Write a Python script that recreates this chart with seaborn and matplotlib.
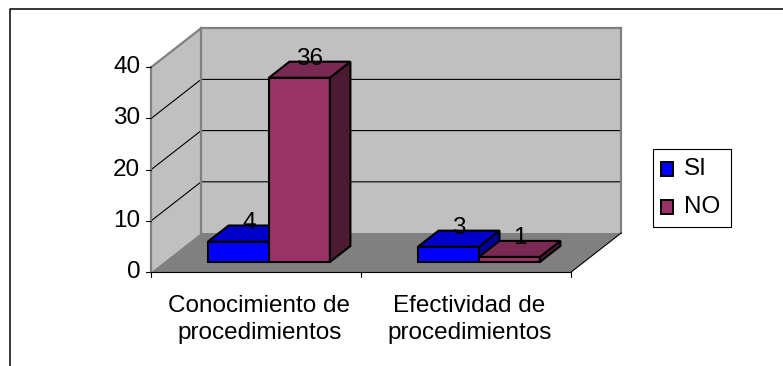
import matplotlib
matplotlib.use("Agg")
import matplotlib.pyplot as plt
from matplotlib.patches import Polygon, Rectangle
import pandas as pd
import seaborn as sns

# ---- datos ----
categorias = ["Conocimiento de procedimientos", "Efectividad de procedimientos"]
etiquetas_eje = [["Conocimiento de", "procedimientos"],
                 ["Efectividad de", "procedimientos"]]
series = ["SI", "NO"]
valores_si = [4, 3]
valores_no = [36, 1]
ticks_y = [0, 10, 20, 30, 40]

colores = {"SI": "#0000FF", "NO": "#993366"}
tono_sup = {"SI": "#0000CC", "NO": "#7A2952"}
tono_lat = {"SI": "#00009A", "NO": "#4D1A33"}

df = pd.DataFrame({
    "categoria": categorias * 2,
    "respuesta": [series[0]] * 2 + [series[1]] * 2,
    "valor": valores_si + valores_no,
})

sns.set_theme(style="white")
plt.rcParams["font.family"] = ["Liberation Sans", "DejaVu Sans"]
FS = 17.5

W, H = 783, 366
fig = plt.figure(figsize=(W / 100, H / 100), dpi=100)
ax = fig.add_axes([0, 0, 1, 1])

# escala del plano frontal de las barras (pixeles)
X0, SX = 269.0, 210.0      # centro de la primera categoria, px por categoria
Y0, SY = 262.0, 5.12       # valor 0, px por unidad
DXR = 50.0 / 39.0          # avance horizontal por px de profundidad
K_FRENTE, K_BARRA, K_FONDO = -10.0, 16.0, 29.0


def P(x, y, k=0.0):
    """Punto (categoria, valor) desplazado k px de profundidad."""
    return (x + k * DXR / SX, y + k / SY)


def px(xp, yp):
    return ((xp - X0) / SX, (Y0 - yp) / SY)


ymax = ticks_y[-1]
xl, xr = -0.5, len(categorias) - 0.5

# ---- paredes y suelo ----
gris_pared, gris_suelo, gris_borde = "#C0C0C0", "#808080", "#808080"
ax.add_patch(Polygon([P(xl, 0, K_FRENTE), P(xl, ymax, K_FRENTE),
                      P(xl, ymax, K_FONDO), P(xl, 0, K_FONDO)],
                     closed=True, facecolor=gris_pared, edgecolor="none", zorder=0))
ax.add_patch(Polygon([P(xl, 0, K_FONDO), P(xr, 0, K_FONDO),
                      P(xr, ymax, K_FONDO), P(xl, ymax, K_FONDO)],
                     closed=True, facecolor=gris_pared, edgecolor="none", zorder=0))
ax.add_patch(Polygon([P(xl, 0, K_FRENTE), P(xr, 0, K_FRENTE),
                      P(xr, 0, K_FONDO), P(xl, 0, K_FONDO)],
                     closed=True, facecolor=gris_suelo, edgecolor="none", zorder=0.5))

# lineas de division
for v in ticks_y[1:-1]:
    a, b, c = P(xl, v, K_FRENTE), P(xl, v, K_FONDO), P(xr, v, K_FONDO)
    ax.plot([a[0], b[0], c[0]], [a[1], b[1], c[1]], color="black", lw=0.8, zorder=1)


def linea(p, q, **kw):
    ax.plot([p[0], q[0]], [p[1], q[1]], solid_capstyle="projecting", **kw)


# aristas de las paredes
for p, q in [((xl, 0, K_FRENTE), (xl, ymax, K_FRENTE)),
             ((xl, ymax, K_FRENTE), (xl, ymax, K_FONDO)),
             ((xl, ymax, K_FONDO), (xr, ymax, K_FONDO)),
             ((xl, 0, K_FONDO), (xl, ymax, K_FONDO)),
             ((xr, 0, K_FONDO), (xr, ymax, K_FONDO))]:
    linea(P(*p), P(*q), color=gris_borde, lw=1.6, zorder=1.5)

# eje de categorias y su borde derecho
linea(P(xl, 0, K_FRENTE), P(xr, 0, K_FRENTE), color="black", lw=0.8, zorder=1.6)
linea(P(xr, 0, K_FRENTE), P(xr, 0, K_FONDO), color="black", lw=0.8, zorder=1.6)

# marcas y etiquetas del eje de valores
tick_len = 5 / SX
for v in ticks_y:
    x0, y0 = P(xl, v, K_FRENTE)
    ax.plot([x0 - tick_len, x0], [y0, y0], color="black", lw=0.8, zorder=1.6)
    ax.annotate(f"{v}", xy=(x0, y0), xytext=(-11, 0), textcoords="offset pixels",
                ha="right", va="center", fontsize=FS, color="black")

# marcas y etiquetas de categorias
for i in range(len(categorias) + 1):
    x0, y0 = P(i - 0.5, 0, K_FRENTE)
    ax.plot([x0, x0], [y0, y0 - 5 / SY], color="black", lw=0.8, zorder=1.6)
for i, lineas in enumerate(etiquetas_eje):
    x0, y0 = P(i, 0, K_FRENTE)
    for j, txt in enumerate(lineas):
        ax.annotate(txt, xy=(x0, y0), xytext=(3, -40 - 27 * j),
                    textcoords="offset pixels", ha="center", va="baseline",
                    fontsize=FS, color="black")

# ---- barras ----
sns.barplot(data=df, x="categoria", y="valor", hue="respuesta", order=categorias,
            hue_order=series, palette=colores, width=0.58, gap=0, saturation=1,
            edgecolor="black", linewidth=1.5, legend=False, ax=ax)

for h_idx, (serie, cont) in enumerate(zip(series, ax.containers)):
    z = 3 + h_idx
    for bar in cont:
        bar.set_zorder(z)
        x, w, h = bar.get_x(), bar.get_width(), bar.get_height()
        sup = [P(x, h), P(x + w, h), P(x + w, h, K_BARRA), P(x, h, K_BARRA)]
        lat = [P(x + w, 0), P(x + w, h), P(x + w, h, K_BARRA), P(x + w, 0, K_BARRA)]
        ax.add_patch(Polygon(lat, closed=True, facecolor=tono_lat[serie],
                             edgecolor="black", lw=1.5, joinstyle="miter", zorder=z + 0.1))
        ax.add_patch(Polygon(sup, closed=True, facecolor=tono_sup[serie],
                             edgecolor="black", lw=1.5, joinstyle="miter", zorder=z + 0.2))
        cx, cy = P(x + w / 2, h, K_BARRA / 2)
        ax.text(cx, cy, f"{h:g}", ha="center", va="bottom", fontsize=FS,
                color="black", zorder=10)

# ---- leyenda ----
ax.add_patch(Rectangle(px(653, 227), 78 / SX, 78 / SY, facecolor="white",
                       edgecolor="black", lw=0.8, clip_on=False, zorder=5))
for j, serie in enumerate(series):
    yc = 169 + 38 * j
    ax.add_patch(Rectangle(px(661, yc + 7), 12 / SX, 14 / SY, facecolor=colores[serie],
                           edgecolor="black", lw=1.4, clip_on=False, zorder=6))
    tx, ty = px(684, yc)
    ax.text(tx, ty, serie, ha="left", va="center", fontsize=FS, color="black", zorder=6)

# marco exterior
fx0, fy0 = px(10, 8.5)
fx1, fy1 = px(W + 5, H + 5)
ax.plot([fx0, fx0, fx1], [fy1, fy0, fy0], color="black", lw=1.1, zorder=20, clip_on=False)

ax.set_xlim(-X0 / SX, (W - X0) / SX)
ax.set_ylim((Y0 - H) / SY, Y0 / SY)
ax.set_axis_off()

fig.savefig("out.png", dpi=100)
